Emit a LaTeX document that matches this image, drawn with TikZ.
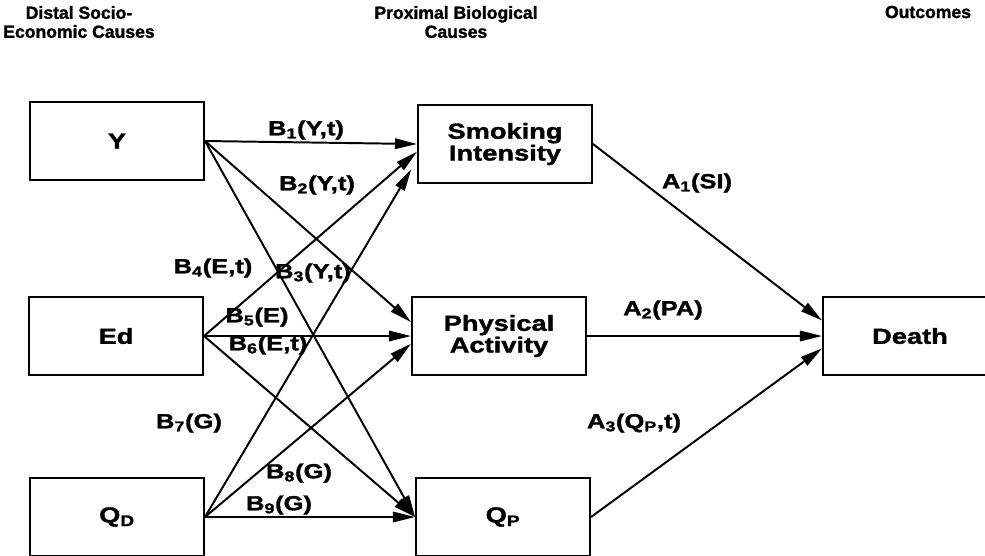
\documentclass[tikz,border=0pt]{standalone}
\usepackage{fontspec}
\setmainfont{Liberation Sans}[FakeStretch=1.25,BoldFeatures={FakeBold=1.5}]
\newfontfamily\headfont{Liberation Sans}[BoldFeatures={FakeBold=1.5}]
\usetikzlibrary{arrows.meta}
\tikzset{
  varbox/.style={draw,line width=1.4pt,minimum width=4.35cm,minimum height=1.93cm,
    align=center,inner sep=0pt,font=\fontsize{15.5}{14.2}\selectfont\bfseries},
  effect/.style={line width=1.4pt,-{Triangle[length=5.5mm,width=2.6mm]}},
  coef/.style={inner sep=0pt,font=\fontsize{14.5}{16}\selectfont\bfseries},
  head/.style={inner sep=0pt,align=center,font=\headfont\fontsize{12.5}{13.5}\selectfont\bfseries}
}
\begin{document}
\begin{tikzpicture}[x=0.025cm,y=-0.025cm]
            \useasboundingbox (0,0) rectangle (985,555);

            % Marking column heads
            \node[head] (hdist) at (79,22) {Distal Socio-\\Economic Causes};
            \node[head] (hprox) at (456,22) {Proximal Biological\\Causes};
            \node[head] (hout) at (928,12) {Outcomes};

            % Drawing distal boxes
            \node[varbox] (y) at (117,141) {Y};
            \node[varbox] (ed) at (116,336) {Ed};
            \node[varbox] (qd) at (117,517) {Q\textsubscript{D}};

            % Drawing proximal boxes
            \node[varbox] (smoke) at (505,144) {Smoking\\Intensity};
            \node[varbox] (phys) at (499,336) {Physical\\Activity};
            \node[varbox] (qp) at (503,517) {Q\textsubscript{P}};

            % Drawing outcome box
            \node[varbox] (death) at (910,336) {Death};

            % Drawing arrows from Y
            \draw[effect] (y.east) -- (smoke.west);
            \draw[effect] (y.east) -- (phys.171);
            \draw[effect] (y.east) -- (qp.west);

            % Drawing arrows from Ed
            \draw[effect] (ed.east) -- (smoke.185);
            \draw[effect] (ed.east) -- (phys.west);
            \draw[effect] (ed.east) -- (qp.west);

            % Drawing arrows from QD
            \draw[effect,shorten >=8pt] (qd.east) -- (smoke.190);
            \draw[effect] (qd.east) -- (phys.185);
            \draw[effect] (qd.east) -- (qp.west);

            % Drawing arrows to Death
            \draw[effect] (smoke.east) -- (death.170);
            \draw[effect] (phys.east) -- (death.west);
            \draw[effect] (qp.east) -- (death.188);

            % Marking coefficients B
            \node[coef] (b1) at (306,130) {B\textsubscript{1}(Y,t)};
            \node[coef] (b2) at (317,185) {B\textsubscript{2}(Y,t)};
            \node[coef] (b3) at (313,273) {B\textsubscript{3}(Y,t)};
            \node[coef] (b4) at (213,268) {B\textsubscript{4}(E,t)};
            \node[coef] (b5) at (257,317) {B\textsubscript{5}(E)};
            \node[coef] (b6) at (268,345) {B\textsubscript{6}(E,t)};
            \node[coef] (b7) at (189,423) {B\textsubscript{7}(G)};
            \node[coef] (b8) at (299,473) {B\textsubscript{8}(G)};
            \node[coef] (b9) at (279,505) {B\textsubscript{9}(G)};

            % Marking coefficients A
            \node[coef] (a1) at (697,183) {A\textsubscript{1}(SI)};
            \node[coef] (a2) at (663,310) {A\textsubscript{2}(PA)};
            \node[coef] (a3) at (634,423) {A\textsubscript{3}(Q\textsubscript{P},t)};
        \end{tikzpicture}
\end{document}
